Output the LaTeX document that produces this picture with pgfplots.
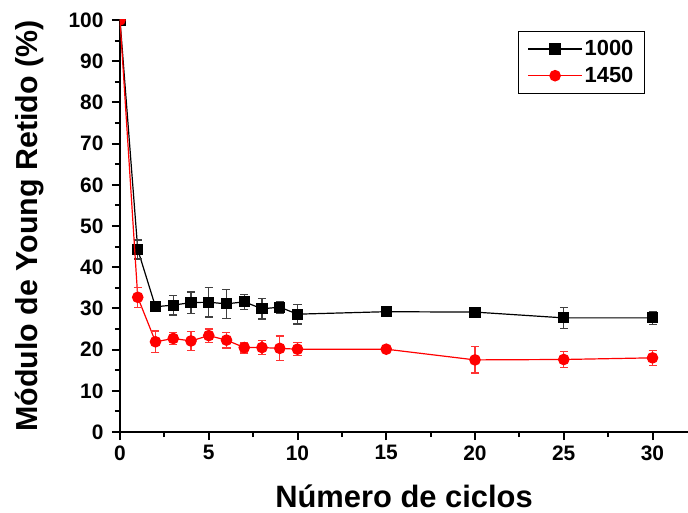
\documentclass[border=0pt]{standalone}
\usepackage{pgfplots}
\pgfplotsset{compat=1.18}
\usepackage{fontspec}
\setmainfont{Liberation Sans}
\begin{document}
\begin{tikzpicture}
\begin{axis}[
  scale only axis, width=568bp, height=412bp,
  xmin=0, xmax=32, ymin=0, ymax=100,
  axis x line*=bottom, axis y line*=left,
  axis line style={line width=2.4bp, black},
  xtick={0,5,...,30}, minor xtick={2.5,7.5,...,27.5},
  ytick={0,10,...,100}, minor ytick={5,15,...,95},
  tick align=outside, major tick length=8bp, minor tick length=5bp,
  every tick/.style={black, line width=2bp},
  tick label style={font=\bfseries\fontsize{21}{21}\selectfont},
  yticklabel style={xshift=-5bp},
  xticklabel style={yshift=-2bp},
  /pgf/number format/assume math mode=true,
  xlabel={Número de ciclos},
  ylabel={Módulo de Young Retido (\%)},
  xlabel style={font=\bfseries\fontsize{31}{31}\selectfont, at={(rel axis cs:0.5,0)}, anchor=center, yshift=-64bp},
  ylabel style={font=\bfseries\fontsize{30.5}{30.5}\selectfont, at={([xshift=-90bp]rel axis cs:0,0.5)}, anchor=center},
  clip marker paths=true,
  legend style={at={(rel axis cs:0.924,0.973)}, anchor=north east, draw=black, line width=0.8bp,
    font=\bfseries\fontsize{22}{22}\selectfont, inner xsep=9bp, inner ysep=7bp, row sep=6bp},
  legend cell align=left,
  legend image code/.code={\draw[mark repeat=2,mark phase=2] plot coordinates {(0bp,0bp) (27bp,0bp) (54bp,0bp)};},
]
\addplot[black, line width=1.2bp, mark=square*, mark size=5bp, mark options={solid, fill=black},
  error bars/.cd, y dir=both, y explicit,
  error bar style={line width=1.3bp, black!75},
  error mark options={rotate=90, mark size=4bp, line width=1.3bp, black!75}]
coordinates {
(0,100) +- (0,0)
(1,44.3) +- (0,2.3)
(2,30.4) +- (0,1.0)
(3,30.8) +- (0,2.4)
(4,31.4) +- (0,2.6)
(5,31.5) +- (0,3.6)
(6,31.1) +- (0,3.5)
(7,31.6) +- (0,1.8)
(8,29.9) +- (0,2.5)
(9,30.3) +- (0,1.4)
(10,28.6) +- (0,2.4)
(15,29.2) +- (0,0.3)
(20,29.1) +- (0,0.3)
(25,27.7) +- (0,2.5)
(30,27.7) +- (0,1.6)
};
\addlegendentry{1000}
\addplot[red, line width=1.2bp, mark=*, mark size=5.2bp, mark options={solid, fill=red},
  error bars/.cd, y dir=both, y explicit,
  error bar style={line width=1.3bp, red!80},
  error mark options={rotate=90, mark size=4bp, line width=1.3bp, red!80}]
coordinates {
(0,100) +- (0,0)
(1,32.7) +- (0,2.4)
(2,21.9) +- (0,2.6)
(3,22.7) +- (0,1.4)
(4,22.1) +- (0,2.3)
(5,23.4) +- (0,1.6)
(6,22.3) +- (0,1.9)
(7,20.5) +- (0,1.3)
(8,20.5) +- (0,1.7)
(9,20.3) +- (0,3.0)
(10,20.1) +- (0,1.6)
(15,20.1) +- (0,0.3)
(20,17.5) +- (0,3.2)
(25,17.6) +- (0,1.9)
(30,18.0) +- (0,1.8)
};
\addlegendentry{1450}
\end{axis}
\pgfresetboundingbox
\path[use as bounding box] (-120bp,-81bp) rectangle (568bp,432bp);
\end{tikzpicture}
\end{document}
